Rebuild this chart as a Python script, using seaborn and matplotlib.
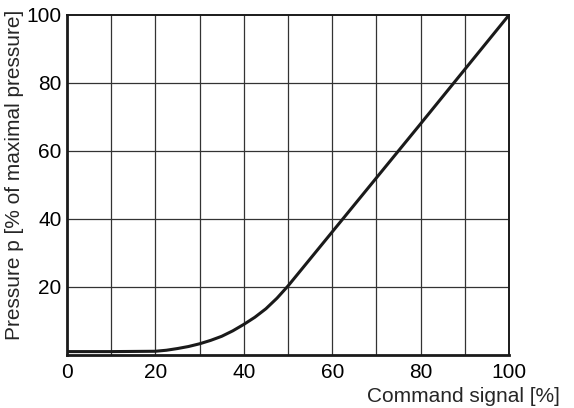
import seaborn as sns
import matplotlib.pyplot as plt
import numpy as np
import pandas as pd

# values
command = [0, 10, 20, 22.5, 25, 27.5, 30, 32.5, 35, 37.5, 40, 42.5, 45, 47.5, 50, 60, 70, 80, 90, 100]
pressure = [1, 1, 1.1, 1.4, 1.9, 2.5, 3.3, 4.3, 5.5, 7.1, 9, 11.1, 13.6, 16.7, 20.3, 36.2, 52.1, 68, 84, 100]
x_ticks = [0, 20, 40, 60, 80, 100]
y_ticks = [20, 40, 60, 80, 100]

df = pd.DataFrame({'command': command, 'pressure': pressure})

sns.set_style('white')
plt.rcParams['font.family'] = ['Liberation Sans', 'DejaVu Sans']

fig = plt.figure(figsize=(5.74, 4.08), dpi=100)
ax = fig.add_axes([67/574, 1 - 355/408, 442/574, 340/408])

ax = sns.lineplot(data=df, x='command', y='pressure', color='#1a1a1a', linewidth=2.2, ax=ax)

ax.set_xlim(0, 100)
ax.set_ylim(0, 100)
ax.set_xticks(x_ticks)
for v in np.arange(10, 100, 10):
    ax.axvline(v, color='#333333', linewidth=0.9, zorder=0)
for v in y_ticks[:-1]:
    ax.axhline(v, color='#333333', linewidth=0.9, zorder=0)
ax.set_yticks(y_ticks)
ax.tick_params(axis='both', length=0, labelsize=15, colors='black')
ax.tick_params(axis='x', pad=6)
ax.tick_params(axis='y', pad=4)

for side in ['top', 'right']:
    ax.spines[side].set_linewidth(1.4)
    ax.spines[side].set_color('#1a1a1a')
for side in ['left', 'bottom']:
    ax.spines[side].set_linewidth(2.0)
    ax.spines[side].set_color('#1a1a1a')

ax.set_ylabel('Pressure p [% of maximal pressure]', fontsize=15)
ax.yaxis.set_label_coords(-0.097, 0.529)
ax.set_xlabel('Command signal [%]', fontsize=15, ha='right')
ax.xaxis.set_label_coords(1.115, -0.095)

plt.savefig('out.png', dpi=100)
